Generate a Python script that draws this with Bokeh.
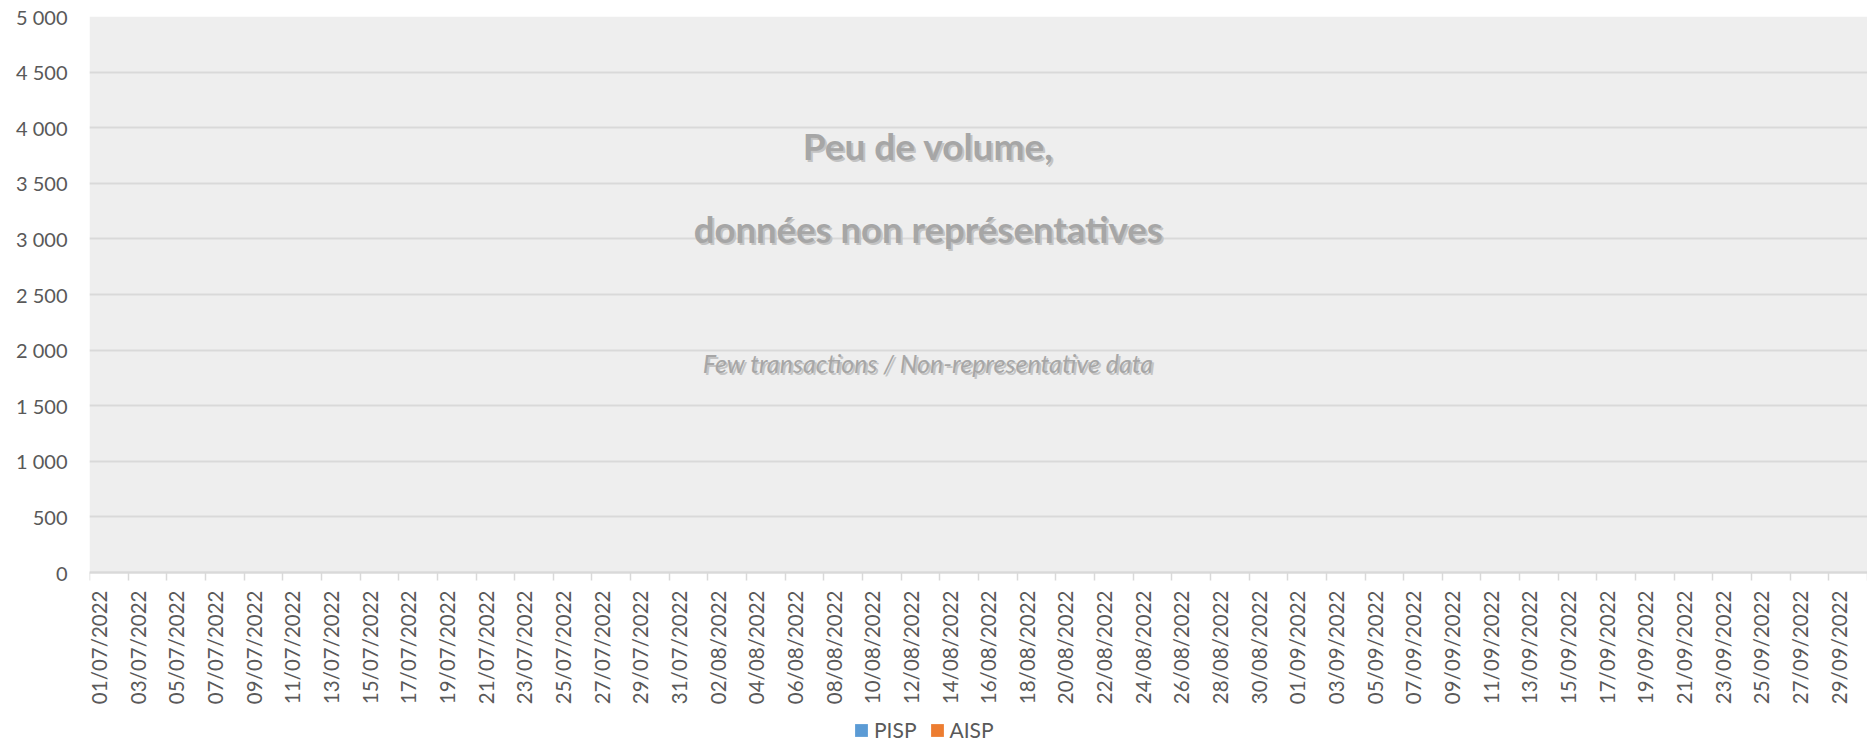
import math
import pandas as pd
from bokeh.plotting import figure
from bokeh.models import (ColumnDataSource, FixedTicker, CustomJSTickFormatter,
                          Legend, LegendItem, Label, Range1d, BoxAnnotation)
from bokeh.embed import file_html
from bokeh.resources import INLINE

# ---------------- data ----------------
dates = [d.strftime("%d/%m/%Y") for d in pd.date_range("2022-07-01", "2022-09-30", freq="D")]

pisp = [0, 0, 0, 0, 0, 0, 0, 0, 0, 0, 0, 0, 0, 0, 0, 0, 0, 0, 0, 0, 0, 0, 0,
        0, 0, 0, 0, 0, 0, 0, 0, 0, 0, 0, 0, 0, 0, 0, 0, 0, 0, 0, 0, 0, 0, 0,
        0, 0, 0, 0, 0, 0, 0, 0, 0, 0, 0, 0, 0, 0, 0, 0, 0, 0, 0, 0, 0, 0, 0,
        0, 0, 0, 0, 0, 0, 0, 0, 0, 0, 0, 0, 0, 0, 0, 0, 0, 0, 0, 0, 0, 0, 0]
aisp = [0, 0, 0, 0, 0, 0, 0, 0, 0, 0, 0, 0, 0, 0, 0, 0, 0, 0, 0, 0, 0, 0, 0,
        0, 0, 0, 0, 0, 0, 0, 0, 0, 0, 0, 0, 0, 0, 0, 0, 0, 0, 0, 0, 0, 0, 0,
        0, 0, 0, 0, 0, 0, 0, 0, 0, 0, 0, 0, 0, 0, 0, 0, 0, 0, 0, 0, 0, 0, 0,
        0, 0, 0, 0, 0, 0, 0, 0, 0, 0, 0, 0, 0, 0, 0, 0, 0, 0, 0, 0, 0, 0, 0]

series = ["PISP", "AISP"]
series_colors = ["#5B9BD5", "#ED7D31"]

y_ticks = [0, 500, 1000, 1500, 2000, 2500, 3000, 3500, 4000, 4500, 5000]
y_tick_labels = ["0", "500", "1 000", "1 500", "2 000", "2 500", "3 000",
                 "3 500", "4 000", "4 500", "5 000"]

note_line1 = "Peu de volume,"
note_line2 = "données non représentatives"
note_sub = "Few transactions / Non-representative data"

# ---------------- figure ----------------
n = len(dates)
idx = list(range(n))
src = ColumnDataSource(dict(x=[i + 0.5 for i in idx], PISP=pisp, AISP=aisp))

FONT = "Lato"
TXT = "#595959"
GRID = "#D9D9D9"

Y_MAX = y_ticks[-1]
# the frame runs down to the bottom edge of the page; the value axis sits at 0,
# leaving room for the rotated date labels and the legend beneath it
Y_MIN = -Y_MAX * 170 / 556

p = figure(width=1867, height=742,
           x_range=Range1d(0, n), y_range=Range1d(Y_MIN, Y_MAX),
           output_backend="svg", toolbar_location=None,
           min_border_left=89, min_border_right=0,
           min_border_top=16, min_border_bottom=0)

p.background_fill_color = "white"
p.border_fill_color = "white"
p.outline_line_color = None
p.add_layout(BoxAnnotation(bottom=0, top=Y_MAX, fill_color="#EEEEEE",
                           fill_alpha=1, line_color=None, level="image"))

rs = p.vbar_stack(series, x="x", width=0.6, fill_color=series_colors,
                  line_color=None, source=src)

# x axis (fixed at value 0)
xa = p.xaxis[0]
xa.fixed_location = 0
xa.ticker = FixedTicker(ticks=[i + 0.5 for i in idx[::2]],
                        minor_ticks=[i for i in idx[::2]] + [n])
xa.formatter = CustomJSTickFormatter(args=dict(labels=dates),
                                     code="return labels[Math.floor(tick)];")
xa.major_tick_out = 0
xa.major_tick_in = 0
xa.minor_tick_out = 8
xa.minor_tick_in = 0
xa.minor_tick_line_color = GRID
xa.minor_tick_line_width = 1.5
xa.axis_line_color = GRID
xa.axis_line_width = 2
xa.major_label_orientation = math.pi / 2
xa.major_label_standoff = 10
xa.major_label_text_font = FONT
xa.major_label_text_font_size = "20.5px"
xa.major_label_text_color = TXT

# y axis
ya = p.yaxis[0]
ya.ticker = FixedTicker(ticks=y_ticks)
ya.formatter = CustomJSTickFormatter(
    args=dict(vals=y_ticks, labs=y_tick_labels),
    code="const i = vals.indexOf(tick); return i >= 0 ? labs[i] : '';")
ya.axis_line_color = None
ya.major_tick_line_color = None
ya.minor_tick_line_color = None
ya.major_tick_out = 0
ya.major_label_standoff = 22
ya.major_label_text_font = FONT
ya.major_label_text_font_size = "20px"
ya.major_label_text_color = TXT

p.xgrid.visible = False
p.ygrid.grid_line_color = GRID
p.ygrid.grid_line_width = 2

# overlay note
def add_note(text, y, size, style, color_main="#A6A6A6", color_shadow="#C4C4C4"):
    for col, dx, dy in [(color_shadow, 2, -2), (color_main, 0, 0)]:
        p.add_layout(Label(x=43.4, y=y, x_offset=dx, y_offset=dy, text=text,
                           text_font=FONT, text_font_size=size,
                           text_font_style=style, text_color=col,
                           text_align="center", text_baseline="middle"))

add_note(note_line1, 3840, "37px", "bold")
add_note(note_line2, 3090, "36.5px", "bold")
add_note(note_sub, 1880, "25px", "italic")

# legend at the bottom of the frame
legend = Legend(items=[LegendItem(label=s, renderers=[r]) for s, r in zip(series, rs)],
                orientation="horizontal", location=(764, 0),
                glyph_width=16, glyph_height=16, label_standoff=5, spacing=12,
                padding=0, margin=0, border_line_color=None,
                background_fill_alpha=0,
                label_text_font=FONT, label_text_font_size="21px",
                label_text_color=TXT)
p.add_layout(legend, "center")

open("out.html", "w").write(file_html(p, INLINE))
